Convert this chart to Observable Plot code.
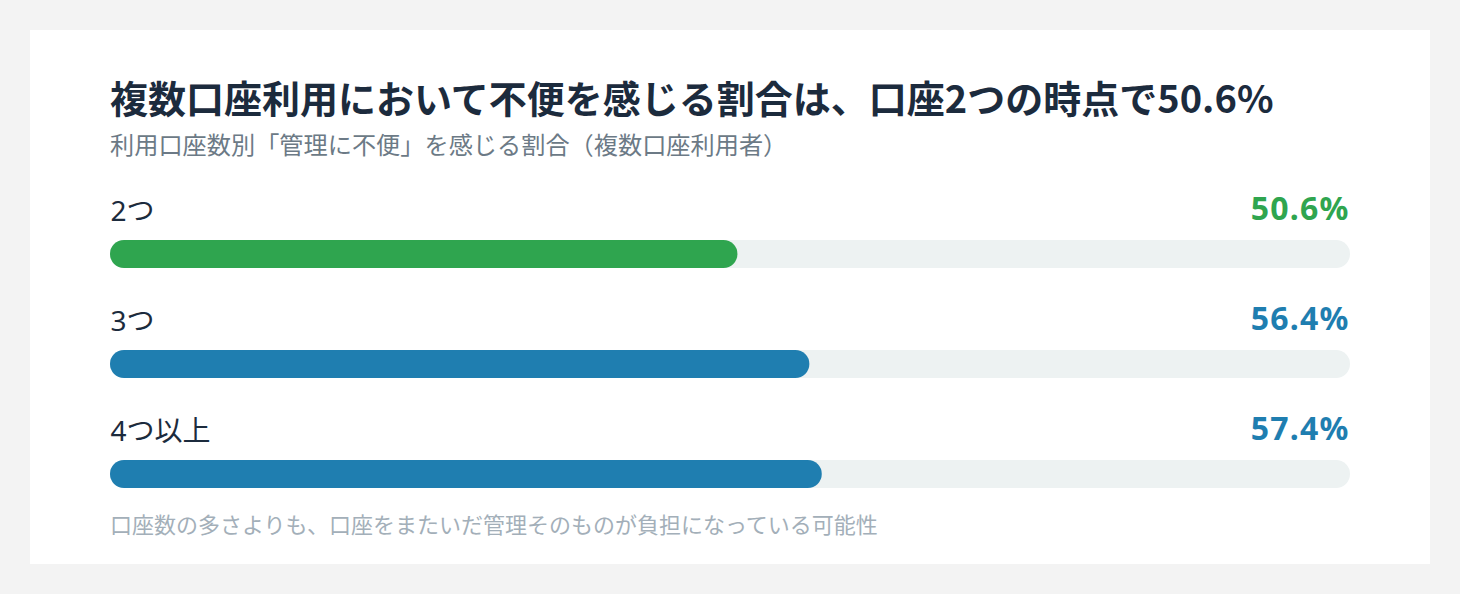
<!DOCTYPE html>
<html><head><meta charset="utf-8">
<script src="https://cdn.jsdelivr.net/npm/d3@7"></script>
<script src="https://cdn.jsdelivr.net/npm/@observablehq/plot@0.6"></script>
<style>
body{margin:0;background:#f3f3f3;font-family:"Noto Sans","Noto Sans CJK JP",sans-serif;}
#card{position:absolute;left:30px;top:30px;width:1400px;height:534px;background:#fff;}
.t{position:absolute;left:80px;white-space:nowrap;line-height:1;}
#title{top:48px;font-size:38px;font-weight:700;color:#1c2b3d;font-family:"Noto Sans CJK JP",sans-serif;}
#sub{top:103px;font-size:24.2px;color:#6c7a86;}
#note{top:483px;font-size:22px;color:#a3afb9;}
#chart{position:absolute;left:80px;top:150px;}
</style></head>
<body>
<div id="card">
<div class="t" id="title"></div>
<div class="t" id="sub"></div>
<div id="chart"></div>
<div class="t" id="note"></div>
</div>
<script>
const titleText = "複数口座利用において不便を感じる割合は、口座2つの時点で50.6%";
const subtitleText = "利用口座数別「管理に不便」を感じる割合（複数口座利用者）";
const noteText = "口座数の多さよりも、口座をまたいだ管理そのものが負担になっている可能性";
const categories = ["2つ", "3つ", "4つ以上"];
const values = [50.6, 56.4, 57.4];
const colors = ["#2fa54f", "#1f7eb0", "#1f7eb0"];

document.getElementById("title").textContent = titleText;
document.getElementById("sub").textContent = subtitleText;
document.getElementById("note").textContent = noteText;

const data = categories.map((c, i) => ({cat: c, value: values[i], color: colors[i], label: values[i].toFixed(1) + "%"}));

const chart = Plot.plot({
  width: 1240, height: 320,
  marginLeft: 0, marginRight: 0, marginTop: 0, marginBottom: 0,
  x: {domain: [0, 100], range: [0, 1240], axis: null},
  y: {domain: categories, range: [60, 308], paddingInner: 0.7455, paddingOuter: 0, axis: null},
  style: {fontFamily: '"Noto Sans","Noto Sans CJK JP",sans-serif', overflow: "visible"},
  marks: [
    Plot.barX(data, {y: "cat", x1: 0, x2: 100, fill: "#edf2f2", rx: 14}),
    Plot.barX(data, {y: "cat", x1: 0, x2: "value", fill: "color", rx: 14}),
    Plot.text(data, {y: "cat", x: 0, text: "cat", textAnchor: "start", dy: -42, fontSize: 28, fill: "#1c2b3d"}),
    Plot.text(data, {y: "cat", x: 100, text: "label", textAnchor: "end", dx: -1, dy: -45, fontSize: 32, fontWeight: 700, fill: "color", style: "letter-spacing:1px"})
  ]
});
chart.querySelectorAll("g[aria-label=text]")[1]?.setAttribute("letter-spacing", "1.2");
document.getElementById("chart").appendChild(chart);
</script>
</body></html>
